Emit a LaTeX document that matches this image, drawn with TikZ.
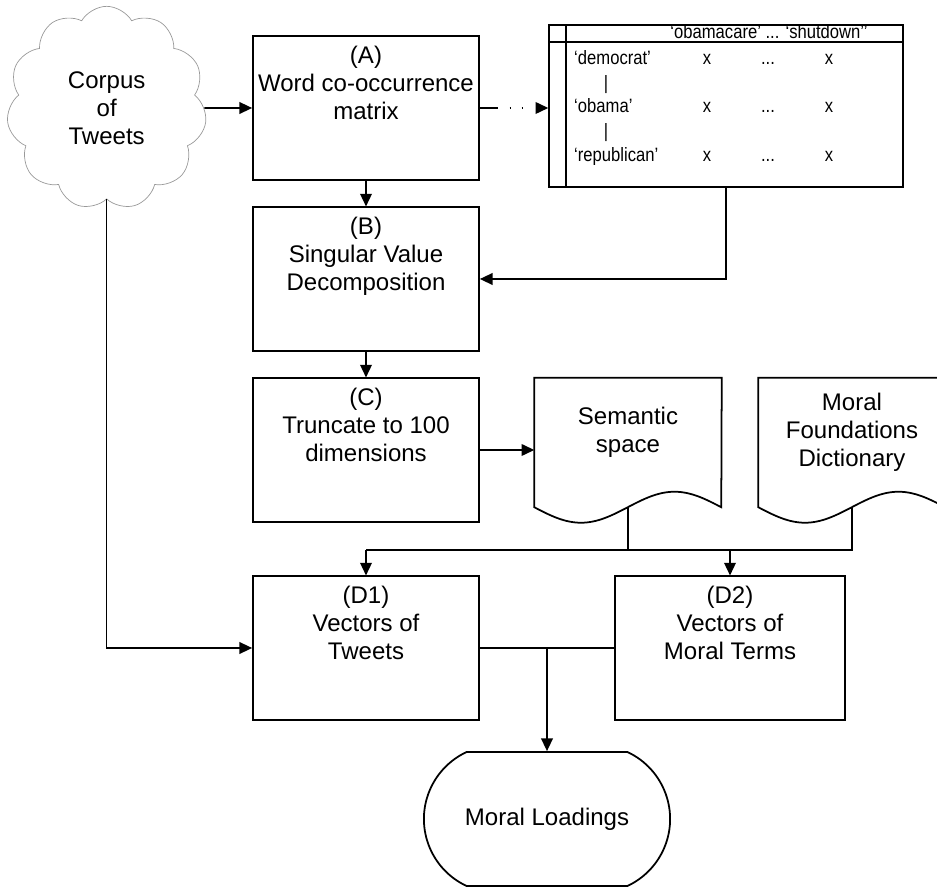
\documentclass[tikz,border=0pt]{standalone}
\usepackage{fontspec}
\setmainfont{Liberation Sans}
\newfontfamily\narrowfont[FakeStretch=0.86]{Liberation Sans}
\usetikzlibrary{shapes.symbols, shapes.misc, arrows.meta, positioning, calc}
\newcommand{\boxlines}[1]{\parbox[t][3.7cm][t]{6.5cm}{\centering #1}}

\begin{document}
\begin{tikzpicture}[
  font=\fontsize{20.5}{24}\selectfont,
  procbox/.style={rectangle, draw=black, line width=1.5pt,
                  minimum width=6.78cm, minimum height=4.3cm,
                  inner xsep=0.1cm, inner ysep=0.3cm},
  docbox/.style={rectangle, minimum width=5.61cm, minimum height=3.24cm,
                 align=center, inner sep=0pt},
  docline/.style={draw=black, line width=1.5pt},
  source/.style={cloud, cloud puffs=11, cloud puff arc=120, aspect=1,
                 draw=gray!80, line width=0.6pt, minimum width=6.0cm,
                 minimum height=6.1cm, align=center, inner sep=0pt},
  result/.style={rounded rectangle, rounded rectangle arc length=130,
                 draw=black, line width=1.5pt,
                 minimum width=7.62cm, minimum height=4.02cm},
  cooctab/.style={rectangle, draw=black, line width=1.3pt,
                  minimum width=10.62cm, minimum height=4.86cm},
  cell/.style={font=\narrowfont\fontsize{16.5}{19}\selectfont, inner sep=0pt,
               text height=1.7ex, text depth=0.4ex},
  flow/.style={-{Triangle[length=0.38cm, width=0.35cm]}, line width=1.3pt},
  conn/.style={line width=1.3pt},
  dotflow/.style={flow, dash pattern=on 0.54cm off 0.35cm on 0.05cm off 0.31cm on 0.05cm off 2cm}
]
\useasboundingbox (0,0) rectangle (28.11,26.64);
\clip (0,0) rectangle (28.11,26.64);

% -- left column: corpus and processing steps --
\node[source] (corpus) at (3.2, 23.40) {Corpus\\of\\Tweets};

\node[procbox] (wcm)    at (10.98, 23.40) {\boxlines{(A)\\Word co-occurrence\\matrix}};
\node[procbox] (svd)    at (10.98, 18.27) {\boxlines{(B)\\Singular Value\\Decomposition}};
\node[procbox] (trunc)  at (10.98, 13.14) {\boxlines{(C)\\Truncate to 100\\dimensions}};
\node[procbox] (tweets) at (10.98, 7.20)  {\boxlines{(D1)\\Vectors of\\Tweets}};
\node[procbox, minimum width=6.9cm] (terms) at (21.9, 7.20) {\boxlines{(D2)\\Vectors of\\Moral Terms}};

\node[result] (loadings) at (16.41, 2.07) {Moral Loadings};

% -- co-occurrence table --
\node[cooctab] (cooc) at (21.78, 23.46) {};
\draw[conn] ([yshift=-0.54cm]cooc.north west) -- ([yshift=-0.54cm]cooc.north east);
\draw[conn] ([xshift=0.54cm]cooc.north west) -- ([xshift=0.54cm]cooc.south west);
\node[cell] (head) at (23.07, 25.62) {‘obamacare’ ... ‘shutdown’’};
\foreach \w/\y [count=\i] in {democrat/24.84, obama/23.40, republican/21.93} {
  \node[cell, anchor=west] (row\i) at (17.22, \y) {‘\w’};
  \node[cell] (xa\i)   at (21.21, \y) {x};
  \node[cell] (dots\i) at (23.04, \y) {...};
  \node[cell] (xb\i)   at (24.87, \y) {x};
}
\node[cell] (bar1) at (18.18, 24.09) {|};
\node[cell] (bar2) at (18.18, 22.65) {|};

% -- documents --
\node[docbox] (sem) at (18.84, 13.68) {Semantic\\space};
\node[docbox] (mfd) at (25.56, 13.68)  {Moral\\Foundations\\Dictionary};
\draw[docline] (sem.north west) -- ([yshift=-0.63cm]sem.south west)
  sin ++(1.4025,-0.465) cos ++(1.4025,0.465) sin ++(1.4025,0.465) cos ++(1.4025,-0.465)
  -- (sem.north east) -- cycle;
\draw[docline] (mfd.north west) -- ([yshift=-0.63cm]mfd.south west)
  sin ++(1.4025,-0.465) cos ++(1.4025,0.465) sin ++(1.4025,0.465) cos ++(1.4025,-0.465)
  -- (mfd.north east) -- cycle;

% -- connectors --
\draw[flow] (corpus.east) -- (wcm.west);
\draw[flow] (corpus.south) |- (tweets.west);
\draw[flow] (wcm.south) -- (svd.north);
\draw[flow] (svd.south) -- (trunc.north);
\draw[dotflow] (wcm.east) -- (wcm.east -| cooc.west);
\draw[flow] (cooc.south) |- (svd.east);
\draw[flow] (trunc.east) -- (trunc.east -| sem.west);

\coordinate (bus) at (0, 10.14);
\draw[conn] ([yshift=-0.63cm]sem.south) -- (sem.south |- bus);
\draw[conn] ([yshift=-0.63cm]mfd.south) |- (tweets.north |- bus);
\draw[flow] (tweets.north |- bus) -- (tweets.north);
\draw[flow] (terms.north |- bus) -- (terms.north);

\draw[conn] (tweets.east) -- (terms.west);
\draw[flow] (tweets.east -| loadings.north) -- (loadings.north);

\end{tikzpicture}
\end{document}
